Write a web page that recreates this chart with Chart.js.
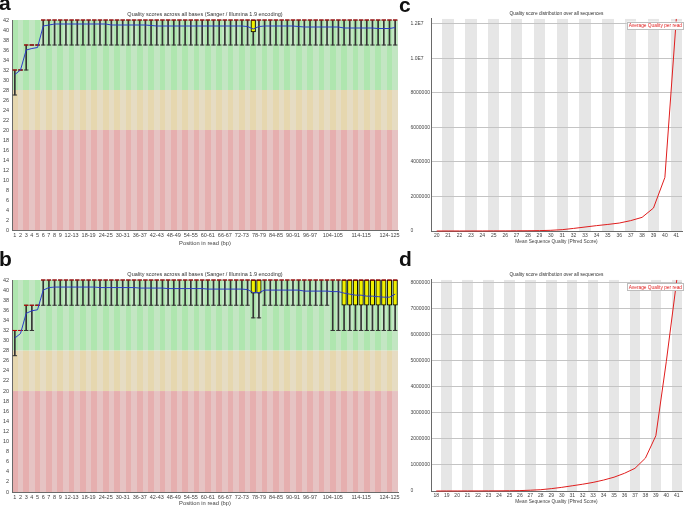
<!DOCTYPE html>
<html>
<head>
<meta charset="utf-8">
<script src="https://cdn.jsdelivr.net/npm/chart.js@4"></script>
<style>
  html, body { margin: 0; padding: 0; background: #fff; }
  body { position: relative; width: 685px; height: 507px; overflow: hidden; }
  canvas { position: absolute; }
  .letter { position: absolute; z-index: 2; font: bold 21px/20px "Liberation Sans", Arial, sans-serif; color: #111; }
</style>
</head>
<body>
<div class="letter" style="left:-1px;top:-7px">a</div>
<div class="letter" style="left:-1px;top:249px">b</div>
<div class="letter" style="left:399px;top:-5px">c</div>
<div class="letter" style="left:399px;top:249px">d</div>

<canvas id="chartA" width="410" height="247" style="left:0;top:0"></canvas>
<canvas id="chartB" width="410" height="247" style="left:0;top:260px"></canvas>
<canvas id="chartC" width="285" height="245" style="left:400px;top:0"></canvas>
<canvas id="chartD" width="285" height="245" style="left:400px;top:260px"></canvas>

<script>
// ── per-base quality categories (panels a, b) ────────────────────────────
const posCats = [
  '1','2','3','4','5','6','7','8','9',
  '10-11','12-13','14-15','16-17','18-19','20-21','22-23','24-25','26-27','28-29',
  '30-31','32-33','34-35','36-37','38-39','40-41','42-43','44-45','46-47','48-49',
  '50-51','52-53','54-55','56-57','58-59','60-61','62-63','64-65','66-67','68-69',
  '70-71','72-73','74-75','76-77','78-79','80-81','82-83','84-85','86-87','88-89',
  '90-91','92-93','94-95','96-97','98-99','100-101','102-103','104-105','106-107','108-109',
  '110-111','112-113','114-115','116-117','118-119','120-121','122-123','124-125','126'
];
const posTickLabels = [
  '1','2','3','4','5','6','7','8','9','12-13','18-19','24-25','30-31','36-37','42-43',
  '48-49','54-55','60-61','66-67','72-73','78-79','84-85','90-91','96-97','104-105','114-115','124-125'
];

// ── panel a ──────────────────────────────────────────────────────────────
const meanA = [
  31.1, 32.0, 36.0, 36.3, 36.5, 40.8, 41.0, 41.2, 41.2, 41.2,
  41.2, 41.2, 41.2, 41.2, 41.2, 41.2, 41.2, 41.0, 41.0, 41.0,
  41.0, 41.0, 41.0, 41.0, 40.9, 40.8, 40.8, 40.8, 40.8, 40.8,
  40.8, 40.8, 40.8, 40.8, 40.8, 40.8, 40.8, 40.8, 40.8, 40.8,
  40.8, 40.7, 40.2, 40.7, 40.8, 40.8, 40.8, 40.8, 40.8, 40.8,
  40.7, 40.6, 40.6, 40.6, 40.6, 40.6, 40.6, 40.6, 40.4, 40.4,
  40.4, 40.4, 40.4, 40.4, 40.3, 40.3, 40.3, 40.5
];
const p10A = [
  27, 32, 32, 37, 37, 37, 37, 37, 37, 37,
  37, 37, 37, 37, 37, 37, 37, 37, 37, 37,
  37, 37, 37, 37, 37, 37, 37, 37, 37, 37,
  37, 37, 37, 37, 37, 37, 37, 37, 37, 37,
  37, 37, 37, 37, 37, 37, 37, 37, 37, 37,
  37, 37, 37, 37, 37, 37, 37, 37, 37, 37,
  37, 37, 37, 37, 37, 37, 37, 37
];
const q1A = [
  32, 32, 37, 37, 37, 42, 42, 42, 42, 42,
  42, 42, 42, 42, 42, 42, 42, 42, 42, 42,
  42, 42, 42, 42, 42, 42, 42, 42, 42, 42,
  42, 42, 42, 42, 42, 42, 42, 42, 42, 42,
  42, 42, 39.6, 42, 42, 42, 42, 42, 42, 42,
  42, 42, 42, 42, 42, 42, 42, 42, 42, 42,
  42, 42, 42, 42, 42, 42, 42, 42
];
const medA = [
  32, 32, 37, 37, 37, 42, 42, 42, 42, 42,
  42, 42, 42, 42, 42, 42, 42, 42, 42, 42,
  42, 42, 42, 42, 42, 42, 42, 42, 42, 42,
  42, 42, 42, 42, 42, 42, 42, 42, 42, 42,
  42, 42, 42, 42, 42, 42, 42, 42, 42, 42,
  42, 42, 42, 42, 42, 42, 42, 42, 42, 42,
  42, 42, 42, 42, 42, 42, 42, 42
];
const q3A = [
  32, 32, 37, 37, 37, 42, 42, 42, 42, 42,
  42, 42, 42, 42, 42, 42, 42, 42, 42, 42,
  42, 42, 42, 42, 42, 42, 42, 42, 42, 42,
  42, 42, 42, 42, 42, 42, 42, 42, 42, 42,
  42, 42, 42, 42, 42, 42, 42, 42, 42, 42,
  42, 42, 42, 42, 42, 42, 42, 42, 42, 42,
  42, 42, 42, 42, 42, 42, 42, 42
];
const p90A = [
  32, 32, 37, 37, 37, 42, 42, 42, 42, 42,
  42, 42, 42, 42, 42, 42, 42, 42, 42, 42,
  42, 42, 42, 42, 42, 42, 42, 42, 42, 42,
  42, 42, 42, 42, 42, 42, 42, 42, 42, 42,
  42, 42, 42, 42, 42, 42, 42, 42, 42, 42,
  42, 42, 42, 42, 42, 42, 42, 42, 42, 42,
  42, 42, 42, 42, 42, 42, 42, 42
];

// ── panel b ──────────────────────────────────────────────────────────────
const meanB = [
  30.5, 31.4, 35.4, 35.9, 36.1, 40.0, 40.5, 40.6, 40.6, 40.6,
  40.6, 40.6, 40.6, 40.6, 40.6, 40.5, 40.5, 40.5, 40.5, 40.5,
  40.5, 40.5, 40.4, 40.4, 40.4, 40.4, 40.4, 40.3, 40.3, 40.3,
  40.3, 40.3, 40.3, 40.3, 40.2, 40.2, 40.2, 40.2, 40.2, 40.2,
  40.2, 40.1, 39.5, 39.5, 40.0, 40.0, 40.0, 40.0, 40.0, 40.0,
  40.0, 39.8, 39.8, 39.8, 39.8, 39.8, 39.7, 39.7, 39.4, 39.2,
  39.0, 39.0, 38.8, 38.8, 38.7, 38.6, 38.6, 39.2
];
const p10B = [
  27, 32, 32, 32, 37, 37, 37, 37, 37, 37,
  37, 37, 37, 37, 37, 37, 37, 37, 37, 37,
  37, 37, 37, 37, 37, 37, 37, 37, 37, 37,
  37, 37, 37, 37, 37, 37, 37, 37, 37, 37,
  37, 37, 34.5, 34.5, 37, 37, 37, 37, 37, 37,
  37, 37, 37, 37, 37, 37, 32, 32, 32, 32,
  32, 32, 32, 32, 32, 32, 32, 32
];
const q1B = [
  32, 32, 37, 37, 37, 42, 42, 42, 42, 42,
  42, 42, 42, 42, 42, 42, 42, 42, 42, 42,
  42, 42, 42, 42, 42, 42, 42, 42, 42, 42,
  42, 42, 42, 42, 42, 42, 42, 42, 42, 42,
  42, 42, 39.4, 39.4, 42, 42, 42, 42, 42, 42,
  42, 42, 42, 42, 42, 42, 42, 42, 37, 37,
  37, 37, 37, 37, 37, 37, 37, 37
];
const medB = [
  32, 32, 37, 37, 37, 42, 42, 42, 42, 42,
  42, 42, 42, 42, 42, 42, 42, 42, 42, 42,
  42, 42, 42, 42, 42, 42, 42, 42, 42, 42,
  42, 42, 42, 42, 42, 42, 42, 42, 42, 42,
  42, 42, 42, 42, 42, 42, 42, 42, 42, 42,
  42, 42, 42, 42, 42, 42, 42, 42, 42, 42,
  42, 42, 42, 42, 42, 42, 42, 42
];
const q3B = [
  32, 32, 37, 37, 37, 42, 42, 42, 42, 42,
  42, 42, 42, 42, 42, 42, 42, 42, 42, 42,
  42, 42, 42, 42, 42, 42, 42, 42, 42, 42,
  42, 42, 42, 42, 42, 42, 42, 42, 42, 42,
  42, 42, 42, 42, 42, 42, 42, 42, 42, 42,
  42, 42, 42, 42, 42, 42, 42, 42, 42, 42,
  42, 42, 42, 42, 42, 42, 42, 42
];
const p90B = [
  32, 32, 37, 37, 37, 42, 42, 42, 42, 42,
  42, 42, 42, 42, 42, 42, 42, 42, 42, 42,
  42, 42, 42, 42, 42, 42, 42, 42, 42, 42,
  42, 42, 42, 42, 42, 42, 42, 42, 42, 42,
  42, 42, 42, 42, 42, 42, 42, 42, 42, 42,
  42, 42, 42, 42, 42, 42, 42, 42, 42, 42,
  42, 42, 42, 42, 42, 42, 42, 42
];

// ── per-sequence quality distribution (panels c, d) ──────────────────────
const qualCatsC = ['20','21','22','23','24','25','26','27','28','29','30',
                   '31','32','33','34','35','36','37','38','39','40','41'];
const readCountsC = [1000, 1500, 2000, 3000, 4000, 6000, 8000, 11000, 15000, 22000, 40000,
                     77000, 150000, 230000, 310000, 380000, 460000, 600000, 790000, 1330000, 3100000, 12270000];
const countTicksC = [0, 2000000, 4000000, 6000000, 8000000, 10000000, 12000000];

const qualCatsD = ['18','19','20','21','22','23','24','25','26','27','28','29',
                   '30','31','32','33','34','35','36','37','38','39','40','41'];
const readCountsD = [500, 800, 1200, 2000, 3000, 5000, 7000, 10000, 15000, 30000, 50000, 90000,
                     140000, 200000, 260000, 330000, 420000, 530000, 680000, 870000, 1260000, 2120000, 4970000, 8100000];
const countTicksD = [0, 1000000, 2000000, 3000000, 4000000, 5000000, 6000000, 7000000, 8000000];

const zoneLimits = { good: 28, ok: 20 };

const PALETTE = {
  goodEven: '#afe6af', goodOdd: '#c3e6c3',
  okEven:   '#e6d7af', okOdd:   '#e6dcc3',
  badEven:  '#e6afaf', badOdd:  '#e6c3c3',
  box:      '#f0f000',
  median:   '#c80000',
  mean:     '#2a3cc8',
  whisker:  '#333',
  stripe:   '#e6e6e6',
  grid:     '#c4c4c4',
  red:      '#e01e1e',
  axis:     '#6a6a6a',
  text:     '#444',
};

Chart.defaults.font.family = '"Liberation Sans", Arial, sans-serif';
Chart.defaults.color = PALETTE.text;

// ── background plugins ───────────────────────────────────────────────────
const zoneBands = {
  id: 'zoneBands',
  beforeDraw(chart) {
    const { ctx, chartArea: { left, right, top, bottom }, scales: { y } } = chart;
    const n = chart.data.labels.length;
    const w = (right - left) / n;
    const yGood = y.getPixelForValue(zoneLimits.good);
    const yOk = y.getPixelForValue(zoneLimits.ok);
    ctx.save();
    for (let i = 0; i < n; i++) {
      const x0 = Math.round(left + i * w), x1 = Math.round(left + (i + 1) * w);
      const even = i % 2 === 0;
      ctx.fillStyle = even ? PALETTE.goodEven : PALETTE.goodOdd;
      ctx.fillRect(x0, top, x1 - x0, yGood - top);
      ctx.fillStyle = even ? PALETTE.okEven : PALETTE.okOdd;
      ctx.fillRect(x0, yGood, x1 - x0, yOk - yGood);
      ctx.fillStyle = even ? PALETTE.badEven : PALETTE.badOdd;
      ctx.fillRect(x0, yOk, x1 - x0, bottom - yOk);
    }
    ctx.restore();
  }
};

const oddStripes = {
  id: 'oddStripes',
  beforeDraw(chart) {
    const { ctx, chartArea: { left, right, top, bottom } } = chart;
    const n = chart.data.labels.length;
    const w = (right - left) / n;
    ctx.save();
    ctx.fillStyle = PALETTE.stripe;
    for (let i = 1; i < n; i += 2) {
      const x0 = Math.round(left + i * w), x1 = Math.round(left + (i + 1) * w);
      ctx.fillRect(x0, top, x1 - x0, bottom - top);
    }
    ctx.restore();
  }
};

const insideLegend = {
  id: 'insideLegend',
  afterDatasetsDraw(chart, args, opts) {
    const { ctx, chartArea } = chart;
    const text = chart.data.datasets[0].label;
    ctx.save();
    ctx.font = '4.8px "Liberation Sans", Arial, sans-serif';
    const w = ctx.measureText(text).width + 4;
    const h = opts.height;
    const x = chartArea.right + 2 - w, y = chartArea.top + opts.top;
    ctx.fillStyle = '#fff';
    ctx.fillRect(x, y, w, h);
    ctx.strokeStyle = '#bdbdbd';
    ctx.lineWidth = 1;
    ctx.strokeRect(Math.round(x) + 0.5, Math.round(y) + 0.5, Math.round(w) - 1, Math.round(h) - 1);
    ctx.fillStyle = PALETTE.red;
    ctx.textBaseline = 'middle';
    ctx.fillText(text, x + 2, y + h / 2 + 0.3);
    ctx.restore();
  }
};

// ── per-base quality box plot ────────────────────────────────────────────
function qualityBoxConfig(mean, p10, q1, med, q3, p90) {
  const pointLine = (label, data, color, radius, order) => ({
    type: 'line', label, data, showLine: false, pointStyle: 'line',
    pointRadius: radius, borderColor: color, pointBorderColor: color,
    pointBorderWidth: 1, clip: false, order
  });
  return {
    type: 'bar',
    data: {
      labels: posCats,
      datasets: [
        { type: 'line', label: 'Mean', data: mean, borderColor: PALETTE.mean, borderWidth: 1,
          pointRadius: 0, tension: 0, fill: false, clip: false, order: 1 },
        pointLine('Median', med, PALETTE.median, 2.2, 2),
        { label: 'Inter-quartile range', data: q1.map((v, i) => v < q3[i] ? [v, q3[i]] : null),
          backgroundColor: PALETTE.box, borderColor: '#000', borderWidth: 1, borderSkipped: false,
          barThickness: 4.6, grouped: false, order: 3 },
        pointLine('10%', p10, PALETTE.whisker, 2.2, 4),
        pointLine('90%', p90, PALETTE.whisker, 2.2, 4),
        { label: 'Whisker', data: p10.map((v, i) => v < p90[i] ? [v, p90[i]] : null),
          backgroundColor: PALETTE.whisker, barThickness: 1, grouped: false, order: 5 },
      ]
    },
    options: {
      responsive: false, animation: false, events: [],
      layout: { padding: { left: 0, right: 12, top: 0, bottom: 0 } },
      plugins: {
        legend: { display: false },
        tooltip: { enabled: false },
        title: {
          display: true, fullSize: false,
          text: 'Quality scores across all bases (Sanger / Illumina 1.9 encoding)',
          color: '#333', font: { size: 5.5, weight: 'normal' },
          padding: { top: 10.7, bottom: 2.7 }
        }
      },
      scales: {
        x: {
          grid: { display: false, drawTicks: false },
          border: { display: true, color: PALETTE.axis },
          ticks: {
            autoSkip: false, maxRotation: 0, minRotation: 0, padding: 2,
            font: { size: 5.5 }, color: PALETTE.text,
            callback: (v, i) => posTickLabels.includes(posCats[i]) ? posCats[i] : ''
          },
          title: { display: true, text: 'Position in read (bp)', font: { size: 5.8 }, color: PALETTE.text, padding: 0 },
          afterFit: s => { s.height = s.chart.height - (s.chart.canvas.id === 'chartA' ? 230 : 232); }
        },
        y: {
          min: 0, max: 42,
          grid: { display: false, drawTicks: false },
          border: { display: true, color: PALETTE.axis },
          ticks: { stepSize: 2, padding: 3, font: { size: 5.5 }, color: PALETTE.text },
          afterFit: s => { s.width = 12; }
        }
      }
    },
    plugins: [zoneBands]
  };
}

// ── per-sequence quality line ────────────────────────────────────────────
function qualDistConfig(labels, counts, countTicks, titleTop, legendTop) {
  return {
    type: 'line',
    data: {
      labels,
      datasets: [{
        label: 'Average Quality per read', data: counts,
        borderColor: PALETTE.red, borderWidth: 1, pointRadius: 0, tension: 0, fill: false, clip: false
      }]
    },
    options: {
      responsive: false, animation: false, events: [],
      layout: { padding: { left: 10.5, right: 3, top: 0, bottom: 0 } },
      plugins: {
        legend: { display: false },
        tooltip: { enabled: false },
        title: {
          display: true, fullSize: false,
          text: 'Quality score distribution over all sequences',
          color: '#333', font: { size: 4.8, weight: 'normal' },
          padding: { top: titleTop, bottom: 2.1 }
        },
        insideLegend: { top: legendTop, height: 8 }
      },
      scales: {
        x: {
          offset: true,
          grid: { display: false, drawTicks: false },
          border: { display: true, color: PALETTE.axis },
          ticks: { autoSkip: false, maxRotation: 0, minRotation: 0, padding: 2, font: { size: 5 }, color: PALETTE.text },
          title: { display: true, text: 'Mean Sequence Quality (Phred Score)', font: { size: 4.8 }, color: PALETTE.text, padding: 0 },
          afterFit: s => { s.height = 14; }
        },
        y: {
          min: 0, max: Math.max(...counts),
          grid: { color: PALETTE.grid, drawTicks: false },
          border: { display: true, color: PALETTE.axis },
          afterBuildTicks: s => { s.ticks = countTicks.map(value => ({ value })); },
          ticks: {
            crossAlign: 'far', padding: 0,
            font: { size: 5 }, color: PALETTE.text,
            callback: v => v >= 1e7 ? (v / 1e7).toFixed(1) + 'E7' : String(v)
          },
          afterFit: s => { s.width = 20.5; }
        }
      }
    },
    plugins: [oddStripes, insideLegend]
  };
}

// ── render ───────────────────────────────────────────────────────────────
const _instances = {};
function renderChart(id, config) {
  if (_instances[id]) _instances[id].destroy();
  const ctx = document.getElementById(id);
  if (!ctx) return;
  _instances[id] = new Chart(ctx, config);
  return _instances[id];
}

renderChart('chartA', qualityBoxConfig(meanA, p10A, q1A, medA, q3A, p90A));
renderChart('chartB', qualityBoxConfig(meanB, p10B, q1B, medB, q3B, p90B));
renderChart('chartC', qualDistConfig(qualCatsC, readCountsC, countTicksC, 11.1, 2.6));
renderChart('chartD', qualDistConfig(qualCatsD, readCountsD, countTicksD, 12.1, 3));
</script>
</body>
</html>
